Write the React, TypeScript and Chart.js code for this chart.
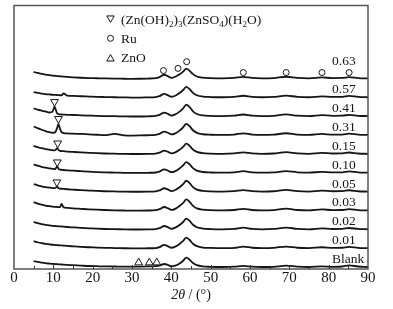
import { useEffect, useRef } from 'react';
import { Chart, registerables } from 'chart.js';

Chart.register(...registerables);

// 2θ sampling positions (degrees) shared by all patterns
const ANGLES = [5, 6, 7, 8, 9, 9.8, 10.3, 10.6, 11.0, 11.3, 11.7, 12.1, 12.6, 13.5, 15, 17, 19, 21, 23, 25.6, 28, 30, 32, 34, 36, 37, 38.2, 39.2, 40, 41, 42, 43, 43.8, 44.6, 45.5, 46.5, 48, 50, 53, 56, 58.3, 60.5, 63, 66, 69.2, 72, 75, 78.3, 81, 83.5, 85.2, 87.5, 90];

const SAMPLE_LABELS = ['Blank', '0.01', '0.02', '0.03', '0.05', '0.10', '0.15', '0.31', '0.41', '0.57', '0.63'];

// intensities (arbitrary units), bottom to top
const I_BLANK = [6.0, 5.1, 4.4, 3.8, 3.4, 3.1, 3.0, 2.9, 2.8, 2.7, 2.6, 2.5, 2.3, 2.1, 1.8, 1.4, 1.0, 0.8, 0.6, 0.5, 0.3, 0.3, 0.4, 0.6, 0.9, 1.5, 3.0, 2.0, 0.6, 1.3, 3.3, 6.3, 9.3, 7.6, 4.0, 1.8, 0.6, 0.2, 0.0, 0.3, 1.2, 0.3, 0.0, 0.2, 1.3, 0.3, 0.0, 0.6, 0.2, 0.5, 1.6, 0.5, 0.0];
const I_001 = [7.0, 5.9, 5.0, 4.3, 3.8, 3.4, 3.2, 3.1, 3.0, 2.9, 2.8, 2.7, 2.5, 2.2, 1.8, 1.3, 0.9, 0.6, 0.3, 0.1, -0.1, -0.2, -0.2, -0.1, 0.1, 1.0, 3.2, 1.8, 0.4, 1.5, 3.9, 7.2, 10.5, 8.4, 4.4, 2.0, 0.6, 0.2, 0.0, 0.3, 1.5, 0.4, 0.0, 0.3, 1.6, 0.4, 0.0, 0.9, 0.2, 0.4, 1.3, 0.3, 0.0];
const I_002 = [7.4, 6.2, 5.2, 4.5, 3.9, 3.5, 3.3, 3.2, 3.1, 3.0, 2.9, 2.8, 2.6, 2.3, 1.9, 1.4, 1.0, 0.6, 0.3, 0.1, -0.1, -0.2, -0.2, -0.1, 0.2, 1.1, 3.3, 1.9, 0.4, 1.6, 4.0, 7.3, 10.7, 8.6, 4.5, 2.0, 0.7, 0.2, 0.0, 0.4, 1.6, 0.4, 0.0, 0.3, 1.7, 0.4, 0.0, 1.0, 0.3, 0.4, 1.3, 0.3, 0.0];
const I_003 = [8.2, 6.9, 5.8, 4.9, 4.2, 3.8, 3.6, 3.5, 3.4, 3.3, 3.2, 6.5, 3.0, 2.6, 2.1, 1.6, 1.1, 0.7, 0.4, 0.1, -0.1, -0.2, -0.2, -0.1, 0.2, 1.2, 3.4, 2.0, 0.5, 1.6, 4.1, 7.5, 11.0, 8.8, 4.6, 2.0, 0.7, 0.2, 0.0, 0.4, 1.6, 0.4, 0.0, 0.3, 1.7, 0.4, 0.0, 1.0, 0.3, 0.4, 1.3, 0.3, 0.0];
const I_005 = [7.5, 6.3, 5.3, 4.5, 3.9, 3.5, 3.4, 3.8, 4.8, 3.4, 2.9, 2.8, 2.6, 2.3, 1.9, 1.4, 1.0, 0.6, 0.3, 0.1, -0.1, -0.2, -0.2, -0.1, 0.2, 1.1, 3.3, 1.9, 0.5, 1.6, 4.0, 7.4, 10.8, 8.6, 4.5, 2.0, 0.7, 0.2, 0.0, 0.4, 1.5, 0.4, 0.0, 0.3, 1.6, 0.4, 0.0, 0.9, 0.3, 0.4, 1.3, 0.3, 0.0];
const I_010 = [8.3, 7.0, 5.9, 5.0, 4.3, 3.8, 3.6, 4.2, 6.5, 4.0, 3.1, 2.9, 2.7, 2.4, 2.0, 1.5, 1.0, 0.6, 0.3, 0.1, -0.1, -0.2, -0.2, -0.1, 0.2, 1.1, 3.3, 1.9, 0.5, 1.6, 4.0, 7.3, 10.6, 8.5, 4.5, 2.0, 0.7, 0.2, 0.0, 0.4, 1.5, 0.4, 0.0, 0.3, 1.6, 0.4, 0.0, 0.9, 0.3, 0.4, 1.3, 0.3, 0.0];
const I_015 = [8.0, 6.7, 5.6, 4.8, 4.1, 3.6, 3.4, 4.0, 6.0, 3.8, 3.0, 2.8, 2.6, 2.3, 1.9, 1.4, 1.0, 0.6, 0.3, 0.1, -0.1, -0.2, -0.2, -0.1, 0.2, 1.1, 3.2, 1.9, 0.5, 1.5, 3.8, 7.0, 10.2, 8.2, 4.3, 1.9, 0.7, 0.2, 0.0, 0.4, 1.5, 0.4, 0.0, 0.3, 1.6, 0.4, 0.0, 0.9, 0.3, 0.4, 1.3, 0.3, 0.0];
const I_031 = [8.5, 6.8, 5.2, 3.9, 2.8, 2.2, 2.3, 3.5, 7.5, 11.0, 6.0, 2.8, 1.9, 1.6, 1.3, 1.0, 0.6, 0.2, -0.2, 1.0, -0.4, -0.6, -0.5, -0.3, 0.1, 1.1, 3.4, 2.0, 0.5, 1.6, 4.1, 7.6, 11.2, 9.0, 4.7, 2.1, 0.7, 0.2, 0.0, 0.4, 1.6, 0.4, 0.0, 0.3, 1.7, 0.4, 0.0, 1.0, 0.3, 0.4, 1.3, 0.3, 0.0];
const I_041 = [7.8, 6.5, 5.5, 4.6, 3.6, 4.5, 9.5, 6.5, 2.6, 2.0, 1.7, 1.6, 1.5, 1.3, 1.1, 0.8, 0.5, 0.2, 0.0, -0.1, -0.3, -0.4, -0.4, -0.2, 0.2, 1.2, 3.5, 2.0, 0.5, 1.7, 4.2, 7.8, 11.5, 9.2, 4.8, 2.1, 0.7, 0.2, 0.0, 0.4, 1.6, 0.4, 0.0, 0.3, 1.7, 0.4, 0.0, 1.0, 0.3, 0.4, 1.3, 0.3, 0.0];
const I_057 = [5.0, 4.3, 3.7, 3.2, 2.8, 2.5, 2.4, 2.3, 2.2, 2.1, 2.0, 1.9, 3.8, 1.7, 1.4, 1.0, 0.7, 0.4, 0.2, 0.0, -0.2, -0.3, -0.3, -0.1, 0.2, 1.1, 3.3, 1.9, 0.5, 1.5, 3.9, 7.2, 10.3, 8.3, 4.4, 2.0, 0.7, 0.2, 0.0, 0.4, 1.5, 0.4, 0.0, 0.3, 1.6, 0.4, 0.0, 0.9, 0.3, 0.4, 1.3, 0.3, 0.0];
const I_063 = [6.5, 5.4, 4.5, 3.8, 3.2, 2.8, 2.6, 2.5, 2.3, 2.2, 2.0, 1.9, 1.7, 1.4, 1.0, 0.6, 0.3, 0.1, -0.1, -0.3, -0.4, -0.5, -0.4, -0.2, 0.2, 1.3, 3.6, 2.0, 0.5, 1.6, 3.8, 6.8, 9.7, 7.8, 4.2, 1.9, 0.7, 0.2, 0.0, 0.4, 1.5, 0.4, 0.0, 0.3, 1.6, 0.4, 0.0, 0.9, 0.3, 0.4, 1.3, 0.3, 0.0];

const SERIES = [I_BLANK, I_001, I_002, I_003, I_005, I_010, I_015, I_031, I_041, I_057, I_063];

// vertical stacking of the patterns (intensity units)
const TRACE_BASE = 2;
const TRACE_STEP = 18.9;

// phase markers: angle and height (stacked intensity units)
const ZHS_ANGLES = [10.3, 11.3, 11.1, 11.0, 10.9];
const ZHS_HEIGHTS = [167.5, 150.5, 126, 107, 87];
const RU_ANGLES = [38.0, 41.7, 43.9, 58.3, 69.2, 78.3, 85.2];
const RU_HEIGHTS = [198.8, 201, 207.7, 196.8, 196.8, 196.8, 196.8];
const ZNO_ANGLES = [31.7, 34.4, 36.3];
const ZNO_HEIGHTS = [6.4, 6.4, 6.4];

const X_MIN = 0;
const X_MAX = 90;
const X_STEP = 10;
const X_MINOR = 5;
const Y_MAX = 264;

const LEGEND_ZHS = [
  { t: '(Zn(OH)', sub: false },
  { t: '2', sub: true },
  { t: ')', sub: false },
  { t: '3', sub: true },
  { t: '(ZnSO', sub: false },
  { t: '4', sub: true },
  { t: ')(H', sub: false },
  { t: '2', sub: true },
  { t: 'O)', sub: false },
];
const LEGEND_RU = 'Ru';
const LEGEND_ZNO = 'ZnO';

const SERIF = '"Liberation Serif", "Times New Roman", serif';
const INK = '#151515';

function drawMarker(ctx: CanvasRenderingContext2D, kind: string, x: number, y: number, r: number) {
  ctx.beginPath();
  if (kind === 'circle') {
    ctx.arc(x, y, r, 0, Math.PI * 2);
  } else {
    const s = kind === 'down' ? -1 : 1;
    ctx.moveTo(x, y - s * r);
    ctx.lineTo(x + r * 0.866, y + (s * r) / 2);
    ctx.lineTo(x - r * 0.866, y + (s * r) / 2);
    ctx.closePath();
  }
  ctx.fillStyle = '#fff';
  ctx.fill();
  ctx.strokeStyle = INK;
  ctx.lineWidth = 1;
  ctx.stroke();
}

const decorPlugin = {
  id: 'decor',
  afterDraw(chart: any) {
    const { ctx, chartArea: ca, scales } = chart;
    const xs = scales.x;
    const ys = scales.y;
    ctx.save();

    // frame
    ctx.strokeStyle = '#555';
    ctx.lineWidth = 1.5;
    ctx.strokeRect(ca.left, ca.top, ca.right - ca.left, ca.bottom - ca.top);

    // inward ticks on the bottom axis
    ctx.strokeStyle = '#333';
    ctx.lineWidth = 1;
    for (let v = X_MIN + X_MINOR; v < X_MAX; v += X_MINOR) {
      const px = Math.round(xs.getPixelForValue(v)) + 0.5;
      ctx.beginPath();
      ctx.moveTo(px, ca.bottom);
      ctx.lineTo(px, ca.bottom - (v % X_STEP === 0 ? 4 : 3));
      ctx.stroke();
    }

    // sample labels at the right
    ctx.fillStyle = INK;
    ctx.font = `13.5px ${SERIF}`;
    ctx.textAlign = 'left';
    ctx.textBaseline = 'middle';
    SAMPLE_LABELS.forEach((t, i) => {
      const lift = i === SAMPLE_LABELS.length - 1 ? 17 : 7.6;
      ctx.fillText(t, ca.right - 36, ys.getPixelForValue(TRACE_BASE + i * TRACE_STEP + lift));
    });

    // legend
    const mx = ca.left + 96.5;
    const tx = ca.left + 107;
    drawMarker(ctx, 'down', mx, ca.top + 12.6, 4.3);
    drawMarker(ctx, 'circle', mx, ca.top + 32.8, 3);
    drawMarker(ctx, 'up', mx, ca.top + 53.4, 4.3);
    ctx.fillStyle = INK;
    ctx.textBaseline = 'alphabetic';
    let cx = tx;
    const row1 = ca.top + 18.5;
    LEGEND_ZHS.forEach((p) => {
      ctx.font = p.sub ? `9px ${SERIF}` : `13.5px ${SERIF}`;
      ctx.fillText(p.t, cx, p.sub ? row1 + 3 : row1);
      cx += ctx.measureText(p.t).width;
    });
    ctx.font = `13.5px ${SERIF}`;
    ctx.fillText(LEGEND_RU, tx, ca.top + 37.5);
    ctx.fillText(LEGEND_ZNO, tx, ca.top + 56.8);

    // axis title: 2θ / (°)
    const part1 = '2θ';
    const part2 = ' / (°)';
    ctx.font = `italic 14px ${SERIF}`;
    const w1 = ctx.measureText(part1).width;
    ctx.font = `14px ${SERIF}`;
    const w2 = ctx.measureText(part2).width;
    const startX = (ca.left + ca.right) / 2 - (w1 + w2) / 2;
    const ty = ca.bottom + 29.5;
    ctx.font = `italic 14px ${SERIF}`;
    ctx.fillText(part1, startX, ty);
    ctx.font = `14px ${SERIF}`;
    ctx.fillText(part2, startX + w1, ty);

    ctx.restore();
  },
};

export default function App() {
  const canvasRef = useRef<HTMLCanvasElement | null>(null);

  useEffect(() => {
    const canvas = canvasRef.current;
    if (!canvas) return;

    const traceSets = SERIES.map((vals, i) => ({
      label: SAMPLE_LABELS[i],
      data: ANGLES.map((a, k) => ({ x: a, y: TRACE_BASE + i * TRACE_STEP + vals[k] })),
      borderColor: INK,
      borderWidth: 1.8,
      pointRadius: 0,
      fill: false,
      cubicInterpolationMode: 'monotone' as const,
      order: 1,
    }));

    const markerSet = (label: string, xs: number[], ys: number[], style: string, rot: number, r: number) => ({
      label,
      data: xs.map((x, k) => ({ x, y: ys[k] })),
      showLine: false,
      pointStyle: style,
      rotation: rot,
      pointRadius: r,
      pointBorderWidth: 1,
      pointBorderColor: INK,
      pointBackgroundColor: '#fff',
      borderColor: INK,
      backgroundColor: '#fff',
      order: -1,
    });

    const chart = new Chart(canvas, {
      type: 'line',
      data: {
        datasets: [
          markerSet('(Zn(OH)2)3(ZnSO4)(H2O)', ZHS_ANGLES, ZHS_HEIGHTS, 'triangle', 180, 4.5),
          markerSet('Ru', RU_ANGLES, RU_HEIGHTS, 'circle', 0, 3),
          markerSet('ZnO', ZNO_ANGLES, ZNO_HEIGHTS, 'triangle', 0, 4.5),
          ...traceSets,
        ] as any,
      },
      options: {
        responsive: false,
        animation: false,
        devicePixelRatio: 1,
        layout: { padding: { left: 14, right: 25, top: 5, bottom: 21.4 } },
        plugins: {
          legend: { display: false },
          tooltip: { enabled: false },
          title: { display: false },
        },
        scales: {
          x: {
            type: 'linear',
            min: X_MIN,
            max: X_MAX,
            grid: { display: false, drawTicks: false },
            border: { display: false },
            ticks: {
              stepSize: X_STEP,
              padding: 0.3,
              color: INK,
              font: { family: SERIF, size: 15, lineHeight: 1.2 },
            },
            title: { display: false },
          },
          y: {
            type: 'linear',
            display: false,
            min: 0,
            max: Y_MAX,
          },
        },
      },
      plugins: [decorPlugin],
    });

    return () => chart.destroy();
  }, []);

  return (
    <div style={{ position: 'absolute', left: 0, top: 0, width: 393, height: 309, background: '#fff' }}>
      <canvas ref={canvasRef} width={393} height={309} style={{ display: 'block' }} />
    </div>
  );
}
